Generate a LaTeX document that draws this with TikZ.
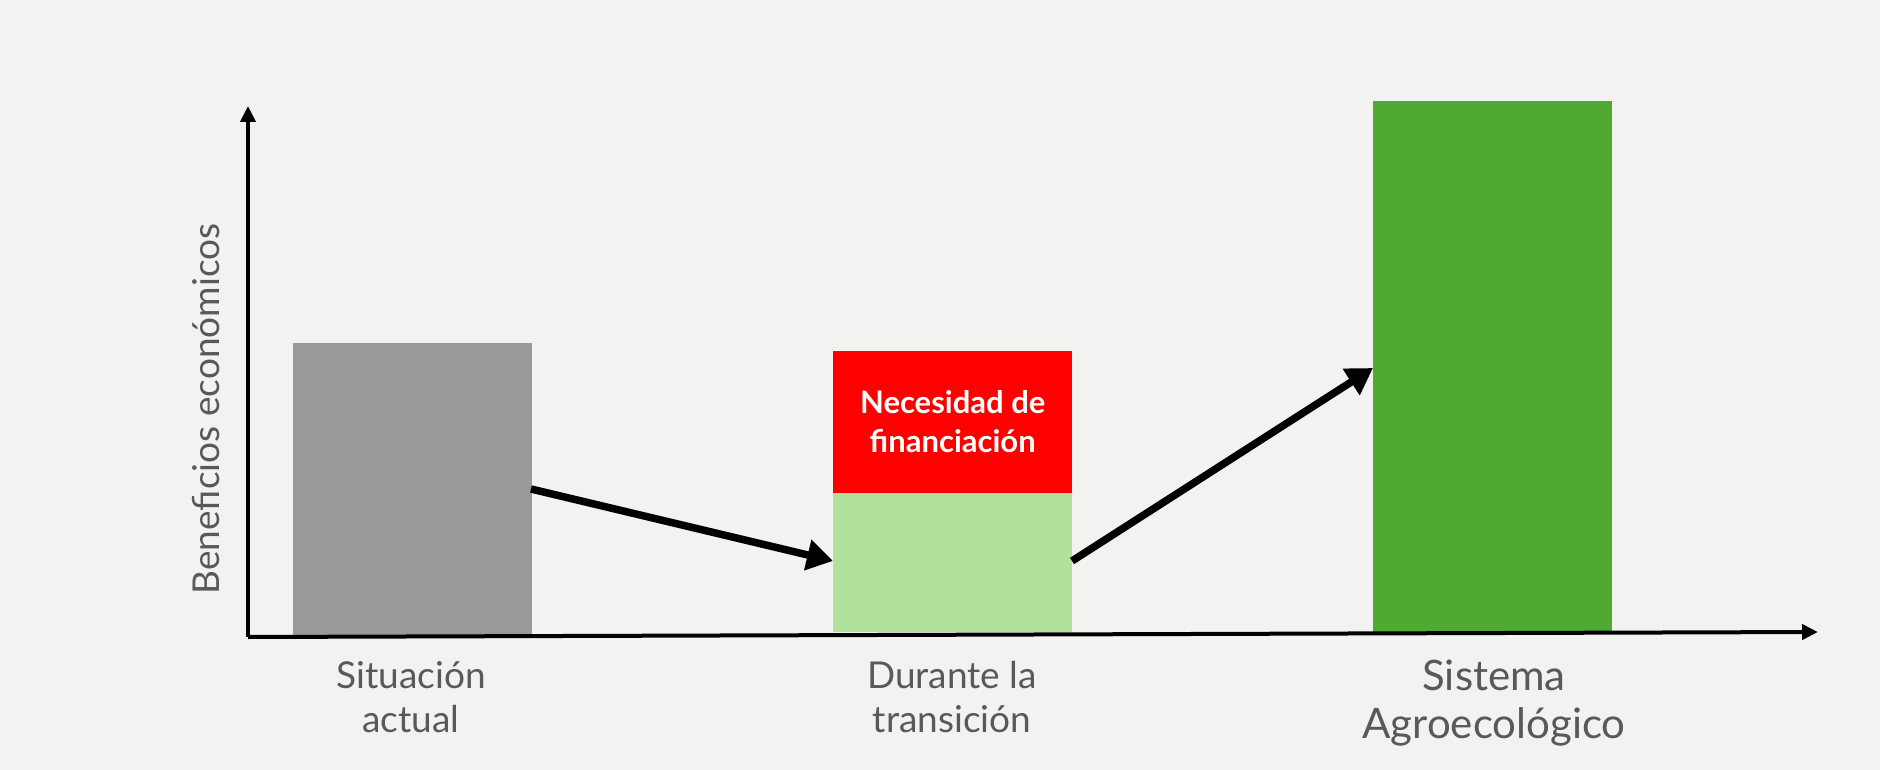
\documentclass[tikz,border=0pt]{standalone}
\usepackage{fontspec}
\setmainfont{Lato}
\usetikzlibrary{arrows.meta}
\definecolor{bgc}{HTML}{F2F2F1}
\definecolor{barg}{HTML}{999A98}
\definecolor{barr}{HTML}{FF0000}
\definecolor{barl}{HTML}{B0E29E}
\definecolor{bard}{HTML}{4FAA31}
\definecolor{txt}{HTML}{595959}
\tikzset{
  bar/.style={draw=none, minimum width=239pt, inner sep=0pt, anchor=south west},
  lbl/.style={text=txt, align=center, font=\fontsize{37}{44}\selectfont},
  axis/.style={line width=4pt, -{Triangle[length=16pt,width=15pt]}},
  flow/.style={line width=7.5pt, -{Triangle[length=26pt,width=30pt]}}
}
\begin{document}
\begin{tikzpicture}[x=1pt,y=-1pt]
\fill[bgc] (0,0) rectangle (1880,770);
\useasboundingbox (0,0) rectangle (1880,770);
% bars
\node[bar, fill=barg, minimum height=294pt] (gray) at (293,637) {};
\node[bar, fill=barl, minimum height=139pt] (trans) at (833,632) {};
\node[bar, fill=barr, minimum height=142pt, text=white, align=center,
      font=\bfseries\fontsize{31}{39}\selectfont] (need) at (833,493) {Necesidad de\\financiación};
\node[bar, fill=bard, minimum height=531pt] (agro) at (1373,632) {};
% axes
\coordinate (orig) at (248,637);
\coordinate (ytop) at (248,106);
\coordinate (xend) at (1818,632);
\draw[axis] (orig) -- (ytop);
\draw[axis] (orig) -- (xend);
% y label
\node[text=txt, rotate=90, font=\fontsize{37}{44}\selectfont] (ylab) at (206,409) {Beneficios económicos};
% labels
\node[lbl] (l1) at (411,697) {Situación\\actual};
\node[lbl] (l2) at (952,697) {Durante la\\transición};
\node[lbl, font=\fontsize{42}{48}\selectfont] (l3) at (1494,703) {Sistema\\Agroecológico};
% flow arrows
\coordinate (a1s) at (531,489);
\coordinate (a1e) at (833,561);
\coordinate (a2s) at (1072,561);
\coordinate (a2e) at (1373,368);
\draw[flow] (a1s) -- (a1e);
\draw[flow] (a2s) -- (a2e);
\end{tikzpicture}
\end{document}
